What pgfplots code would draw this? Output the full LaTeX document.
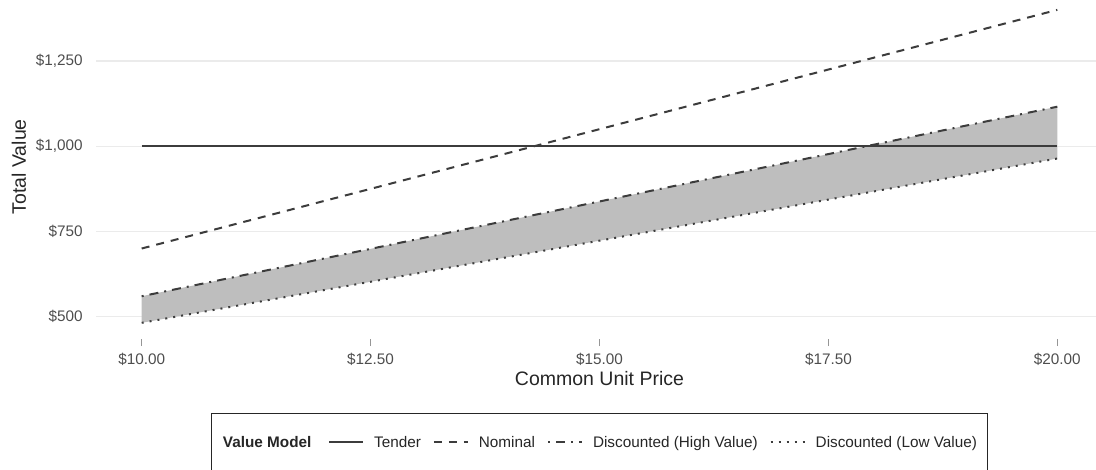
\documentclass[border=0pt]{standalone}
\usepackage{fontspec}
\setmainfont{Liberation Sans}
\usepackage{pgfplots}
\pgfplotsset{compat=1.18}
\definecolor{linegray}{RGB}{60,60,60}
\definecolor{ticktext}{RGB}{77,77,77}
\definecolor{gridc}{RGB}{235,235,235}
\definecolor{fillc}{RGB}{190,190,190}
\definecolor{tickc}{RGB}{150,150,150}
\begin{document}
\begin{tikzpicture}
\begin{scope}
\clip (0pt,0pt) rectangle (1096pt,470pt);
\begin{axis}[
  at={(95.9pt,130.8pt)}, anchor=south west,
  scale only axis, width=1007.2pt, height=345pt,
  xmin=9.5, xmax=20.5, ymin=434, ymax=1446,
  axis line style={draw=none},
  xtick={10,12.5,15,17.5,20},
  xticklabels={\$10.00,\$12.50,\$15.00,\$17.50,\$20.00},
  ytick={500,750,1000,1250},
  yticklabels={\$500,\$750,\$1{,}000,\$1{,}250},
  ymajorgrids, grid style={gridc, line width=1.1pt},
  tick align=outside,
  major tick length=7pt,
  xtick pos=lower, ytick pos=left,
  xtick style={draw=tickc, line width=0.9pt},
  ytick style={draw=none},
  /pgf/number format/assume math mode=true,
  tick label style={font=\fontsize{15.3}{18}\selectfont, text=ticktext},
  x tick label style={anchor=north, inner sep=0pt, yshift=-7pt},
  y tick label style={anchor=east, inner sep=0pt, xshift=-6pt},
  xlabel={Common Unit Price},
  ylabel={Total Value},
  label style={font=\fontsize{19.5}{23}\selectfont, text=black!85},
  xlabel style={at={(axis description cs:0.5,-0.1154)}, anchor=center},
  ylabel style={at={(axis description cs:-0.0764,0.5)}, anchor=center},
  legend columns=-1,
  legend image code/.code={\draw[#1] (0pt,0pt) -- (34pt,0pt);},
  legend style={
    at={(0.5,-0.2130)}, anchor=north,
    draw=black!85, line width=1pt,
    font=\fontsize{15.3}{18}\selectfont, text=black!85,
    inner xsep=0pt, inner ysep=22.8pt,
    nodes={inner sep=0pt},
    /tikz/every odd column/.append style={column sep=10pt},
    /tikz/every even column/.append style={column sep=12pt},
  },
  legend cell align=left,
]
\addlegendimage{legend image code/.code={\path (0pt,0pt) -- (0pt,0pt);}}
\addlegendentry{\textbf{Value Model}\rule{4.7pt}{0pt}}

\addplot[fill=fillc, draw=none, forget plot] coordinates {(10,560) (20,1116) (20,964) (10,482)} -- cycle;

\addplot[linegray, line width=2pt] coordinates {(10,1000) (20,1000)};
\addlegendentry{Tender}
\addplot[linegray, line width=2pt, dash pattern=on 8pt off 7pt] coordinates {(10,700) (20,1400)};
\addlegendentry{Nominal}
\addplot[linegray, line width=2pt, dash pattern=on 2pt off 6pt on 9pt off 6pt] coordinates {(10,560) (20,1116)};
\addlegendentry{Discounted (High Value)}
\addplot[linegray, line width=2pt, dash pattern=on 2pt off 6pt] coordinates {(10,482) (20,964)};
\addlegendentry{Discounted (Low Value)\rule{10pt}{0pt}}
\end{axis}
\end{scope}
\pgfresetboundingbox
\useasboundingbox (0pt,0pt) rectangle (1096pt,470pt);
\end{tikzpicture}
\end{document}
